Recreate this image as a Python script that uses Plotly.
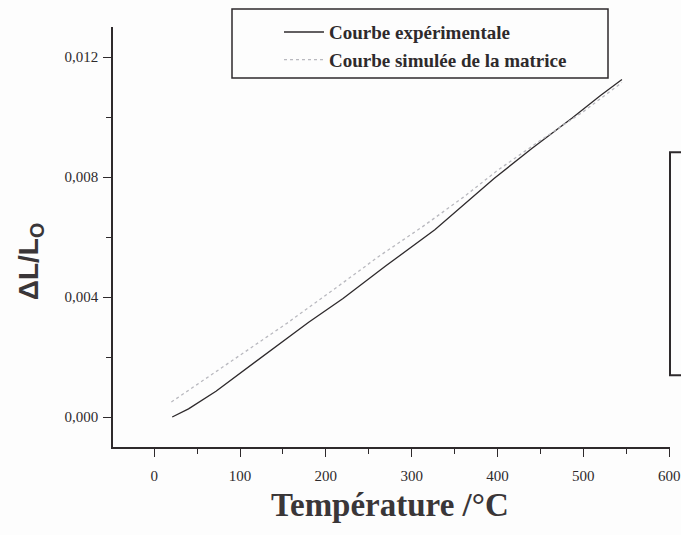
import plotly.graph_objects as go

# ---- data ----
exp_temperature = [21, 40, 72, 100, 144, 180, 220, 270, 327, 360, 396, 440, 487, 520, 545]
exp_dL = [0.0000, 0.00027, 0.00086, 0.00146, 0.00240, 0.00316, 0.00395, 0.00504,
          0.00624, 0.00705, 0.00795, 0.00895, 0.00997, 0.01072, 0.01125]

sim_temperature = [20, 60, 109, 155, 224, 262, 312, 360, 400, 450, 500, 545]
sim_dL = [0.00050, 0.00128, 0.00221, 0.00313, 0.00456, 0.00536, 0.00633, 0.00732,
          0.00822, 0.00922, 0.01018, 0.01115]

series_names = ["Courbe expérimentale", "Courbe simulée de la matrice"]

x_tickvals = [0, 100, 200, 300, 400, 500, 600]
x_ticktext = ["0", "100", "200", "300", "400", "500", "600"]
y_tickvals = [0.000, 0.004, 0.008, 0.012]
y_ticktext = ["0,000", "0,004", "0,008", "0,012"]

x_title = "Température /°C"
y_title = "<b>ΔL/L<sub>O</sub></b>"

# ---- figure ----
INK = "#2e2a2c"
fig = go.Figure()
fig.add_trace(go.Scatter(x=exp_temperature, y=exp_dL, mode="lines", name=series_names[0],
                         line=dict(color=INK, width=1.3)))
fig.add_trace(go.Scatter(x=sim_temperature, y=sim_dL, mode="lines", name=series_names[1],
                         line=dict(color="#b9b9bf", width=1.3, dash="dot")))

tickfont = dict(family="Liberation Serif, Times New Roman, serif", size=15, color=INK)

fig.update_layout(
    width=681, height=535,
    margin=dict(l=113, r=11, t=27, b=88, autoexpand=False),
    paper_bgcolor="#fdfdfd", plot_bgcolor="#fdfdfd",
    showlegend=True,
    legend=dict(x=0.298, y=1.033, xanchor="left", yanchor="top",
                bgcolor="rgba(0,0,0,0)", borderwidth=0,
                font=dict(family="Liberation Serif, Times New Roman, serif", size=19,
                          color=INK, weight="bold"),
                tracegroupgap=0, itemwidth=40),
    xaxis=dict(range=[-48, 601], showgrid=False, zeroline=False, automargin=False,
               showline=True, linecolor=INK, linewidth=1.5,
               tickvals=x_tickvals, ticktext=x_ticktext, ticks="outside", ticklen=8,
               tickwidth=1.3, tickcolor=INK, tickfont=tickfont, ticklabelstandoff=6,
               minor=dict(dtick=50, tick0=0, ticks="outside", ticklen=5, tickwidth=1.2, tickcolor=INK)),
    yaxis=dict(range=[-0.001, 0.013], showgrid=False, zeroline=False, automargin=False,
               showline=True, linecolor=INK, linewidth=1.5,
               tickvals=y_tickvals, ticktext=y_ticktext, ticks="outside", ticklen=8,
               tickwidth=1.3, tickcolor=INK, tickfont=tickfont, ticklabelstandoff=2,
               minor=dict(dtick=0.002, tick0=0, ticks="outside", ticklen=5, tickwidth=1.2, tickcolor=INK)),
)

# axis titles
fig.add_annotation(text="<b>" + x_title + "</b>", xref="paper", yref="paper",
                   x=0.497, y=-0.138, showarrow=False, xanchor="center", yanchor="middle",
                   font=dict(family="Liberation Serif, Times New Roman, serif", size=33, color="#3a3638"))
fig.add_annotation(text=y_title, xref="paper", yref="paper", textangle=-90,
                   x=-0.149, y=0.44, showarrow=False, xanchor="center", yanchor="middle",
                   font=dict(family="Liberation Sans, Arial, sans-serif", size=28, color="#3a3638"))

# legend frame
fig.add_shape(type="rect", xref="paper", yref="paper",
              x0=(232 - 113) / 557, x1=(608 - 113) / 557,
              y0=1 + (27 - 78) / 420, y1=1 + (27 - 9) / 420,
              line=dict(color=INK, width=1.5))
# fragment of neighbouring frame at the right edge
fig.add_shape(type="path", xref="paper", yref="paper",
              path="M 1.05,0.702 L 1.0,0.702 L 1.0,0.171 L 1.05,0.171",
              line=dict(color=INK, width=2))

fig.write_html("out.html")
